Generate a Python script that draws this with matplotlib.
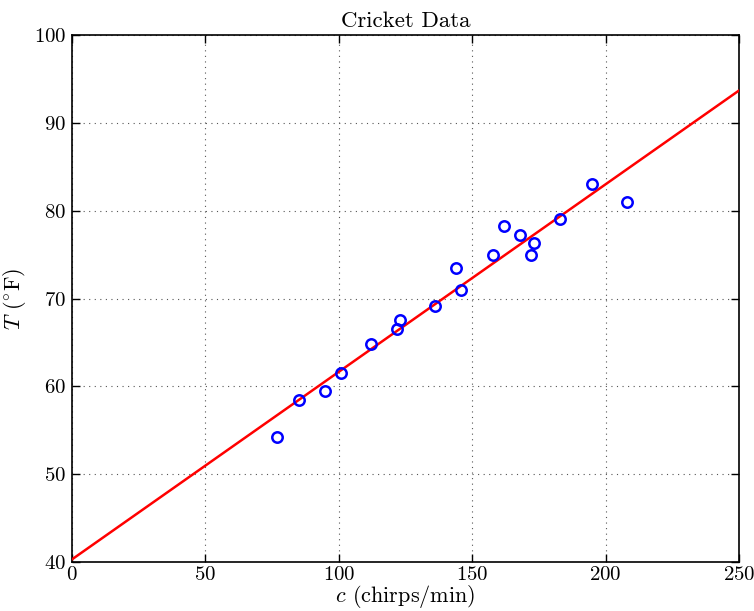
import matplotlib
matplotlib.use("Agg")
import matplotlib.pyplot as plt
import numpy as np

chirps = [77, 85, 95, 101, 112, 122, 123, 136, 144, 146, 158, 162, 168, 172, 173, 183, 195, 208]
temps = [54.2, 58.5, 59.5, 61.5, 64.8, 66.5, 67.5, 69.2, 73.5, 71.0, 75.0, 78.2, 77.2, 75.0, 76.3, 79.0, 83.0, 81.0]
fit_intercept = 40.3
fit_slope = 0.2135
xticks = [0, 50, 100, 150, 200, 250]
yticks = [40, 50, 60, 70, 80, 90, 100]

plt.rcParams['font.family'] = ['cmr10', 'DejaVu Serif']
plt.rcParams['mathtext.fontset'] = 'cm'
plt.rcParams['axes.formatter.use_mathtext'] = True

fig = plt.figure(figsize=(7.54, 6.11), dpi=100)
ax = fig.add_axes([0.0955, 0.0802, 0.8845, 0.8625])

xl = np.array([0, 250])
ax.plot(xl, fit_intercept + fit_slope * xl, color='red', lw=1.8, zorder=3)
ax.plot(chirps, temps, 'o', mfc='none', mec='blue', mew=1.8, ms=7.5, zorder=4)

ax.set_xlim(0, 250)
ax.set_ylim(40, 100)
ax.set_xticks(xticks)
ax.set_yticks(yticks)
ax.grid(True, linestyle=(0, (1, 4)), color='#555555', lw=0.8)
ax.tick_params(direction='in', top=True, right=True, length=6, width=1, labelsize=15, pad=4)
ax.tick_params(axis='x', pad=3)
for s in ax.spines.values():
    s.set_linewidth(1.2)

ax.set_title('Cricket Data', fontsize=16.5, pad=6)
ax.set_xlabel('$c$ (chirps/min)', fontsize=16, labelpad=-1)
ax.set_ylabel(r'$T$ ($^{\circ}$F)', fontsize=16, labelpad=4)

fig.savefig('out.png', dpi=100)
